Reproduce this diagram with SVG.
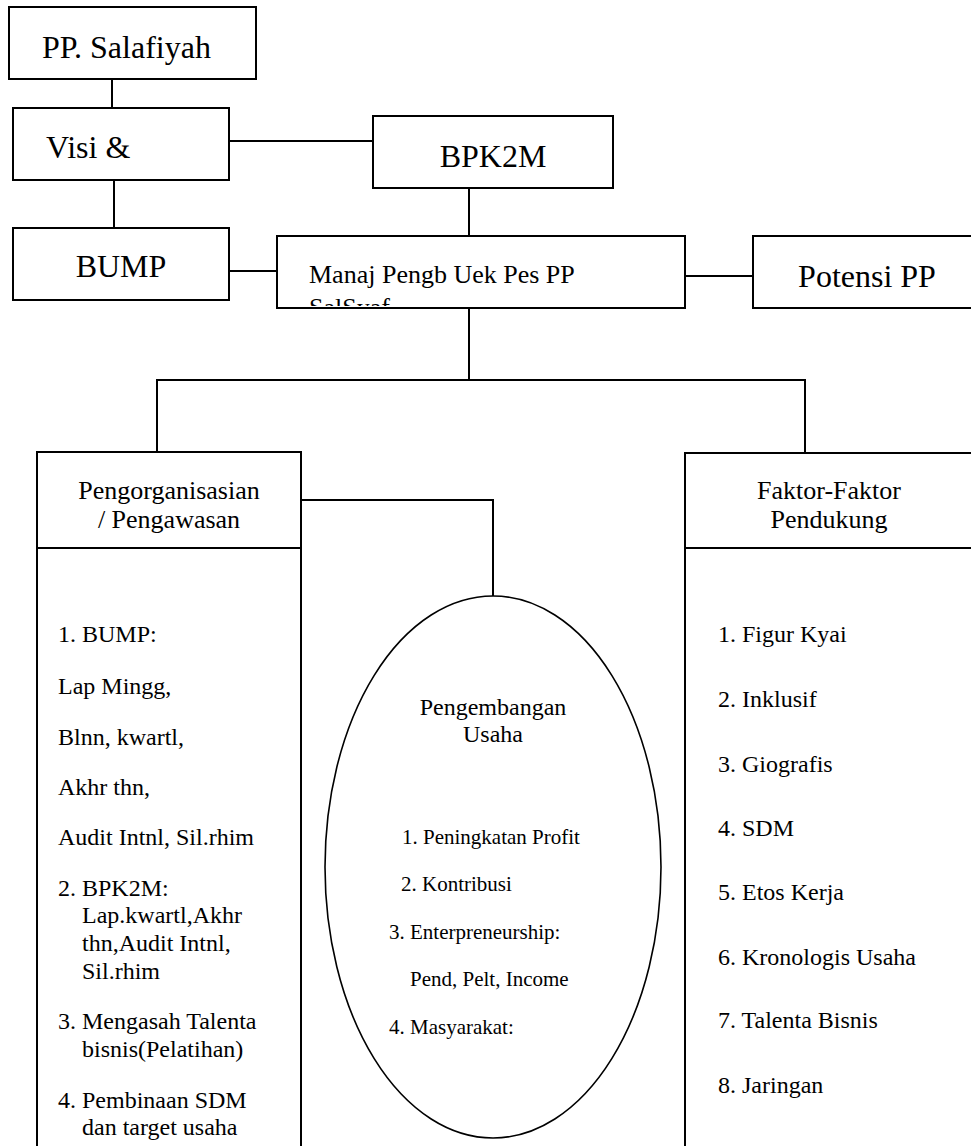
<svg xmlns="http://www.w3.org/2000/svg" width="971" height="1146" viewBox="0 0 971 1146">
<style>
.box{fill:#fff;stroke:#000;stroke-width:2}
.ln{fill:none;stroke:#000;stroke-width:2}
text{font-family:'Liberation Serif','Times New Roman',Times,serif;fill:#000}
.t32{font-size:32px}
.t26{font-size:26px}
.t24{font-size:24px}
.t21{font-size:21px}
.mid{text-anchor:middle}
</style>
<defs>
<clipPath id="manajClip"><rect x="278" y="237" width="406" height="69"/></clipPath>
</defs>
<rect width="971" height="1146" fill="#fff"/>
<g id="connectors">
<line class="ln" x1="112" y1="79" x2="112" y2="108"/>
<line class="ln" x1="229" y1="141" x2="373" y2="141"/>
<line class="ln" x1="114" y1="180" x2="114" y2="228"/>
<line class="ln" x1="229" y1="271" x2="277" y2="271"/>
<line class="ln" x1="469" y1="188" x2="469" y2="236"/>
<line class="ln" x1="685" y1="276" x2="753" y2="276"/>
<line class="ln" x1="469" y1="308" x2="469" y2="380"/>
<polyline class="ln" points="157,452 157,380 805,380 805,453"/>
<polyline class="ln" points="301,500 493,500 493,596"/>
</g>
<g font-family="Liberation Serif, serif">
<g id="pp-salafiyah">
<rect class="box" x="9" y="7" width="247" height="72"/>
<text class="t32" x="42" y="58">PP. Salafiyah</text>
</g>
<g id="visi">
<rect class="box" x="13" y="108" width="216" height="72"/>
<text class="t32" x="46" y="158">Visi &amp;</text>
</g>
<g id="bpk2m">
<rect class="box" x="373" y="116" width="240" height="72"/>
<text class="t32 mid" x="493" y="167">BPK2M</text>
</g>
<g id="bump">
<rect class="box" x="13" y="228" width="216" height="72"/>
<text class="t32 mid" x="121" y="277">BUMP</text>
</g>
<g id="manaj">
<rect class="box" x="277" y="236" width="408" height="72"/>
<text class="t26" x="309" y="283">Manaj Pengb Uek Pes PP</text>
<text class="t26" x="309" y="316" clip-path="url(#manajClip)">SalSyaf</text>
</g>
<g id="potensi">
<rect class="box" x="753" y="236" width="229" height="72"/>
<text class="t32 mid" x="867" y="287">Potensi PP</text>
</g>
<g id="pengorganisasian">
<rect class="box" x="37" y="452" width="264" height="720"/>
<line class="ln" x1="37" y1="548" x2="301" y2="548"/>
<text class="t26 mid" x="169" y="499">Pengorganisasian</text>
<text class="t26 mid" x="169" y="528">/ Pengawasan</text>
<text class="t24" x="58" y="642">1. BUMP:</text>
<text class="t24" x="58" y="694">Lap Mingg,</text>
<text class="t24" x="58" y="745">Blnn, kwartl,</text>
<text class="t24" x="58" y="795">Akhr thn,</text>
<text class="t24" x="58" y="845">Audit Intnl, Sil.rhim</text>
<text class="t24" x="58" y="896">2. BPK2M:</text>
<text class="t24" x="82" y="923">Lap.kwartl,Akhr</text>
<text class="t24" x="82" y="951">thn,Audit Intnl,</text>
<text class="t24" x="82" y="979">Sil.rhim</text>
<text class="t24" x="58" y="1029">3. Mengasah Talenta</text>
<text class="t24" x="82" y="1057">bisnis(Pelatihan)</text>
<text class="t24" x="58" y="1108">4. Pembinaan SDM</text>
<text class="t24" x="82" y="1135">dan target usaha</text>
</g>
<g id="pengembangan-usaha">
<ellipse cx="493" cy="867" rx="168" ry="271" fill="#fff" stroke="#000" stroke-width="1.6"/>
<text class="t24 mid" x="493" y="715">Pengembangan</text>
<text class="t24 mid" x="493" y="742">Usaha</text>
<text class="t21" x="402" y="844">1. Peningkatan Profit</text>
<text class="t21" x="401" y="891">2. Kontribusi</text>
<text class="t21" x="389" y="939">3. Enterpreneurship:</text>
<text class="t21" x="410" y="986">Pend, Pelt, Income</text>
<text class="t21" x="389" y="1034">4. Masyarakat:</text>
</g>
<g id="faktor-pendukung">
<rect class="box" x="685" y="453" width="290" height="720"/>
<line class="ln" x1="685" y1="548" x2="975" y2="548"/>
<text class="t26 mid" x="829" y="499">Faktor-Faktor</text>
<text class="t26 mid" x="829" y="528">Pendukung</text>
<text class="t24" x="718" y="642">1. Figur Kyai</text>
<text class="t24" x="718" y="707">2. Inklusif</text>
<text class="t24" x="718" y="772">3. Giografis</text>
<text class="t24" x="718" y="836">4. SDM</text>
<text class="t24" x="718" y="900">5. Etos Kerja</text>
<text class="t24" x="718" y="965">6. Kronologis Usaha</text>
<text class="t24" x="718" y="1028">7. Talenta Bisnis</text>
<text class="t24" x="718" y="1093">8. Jaringan</text>
</g>
</g>
</svg>
